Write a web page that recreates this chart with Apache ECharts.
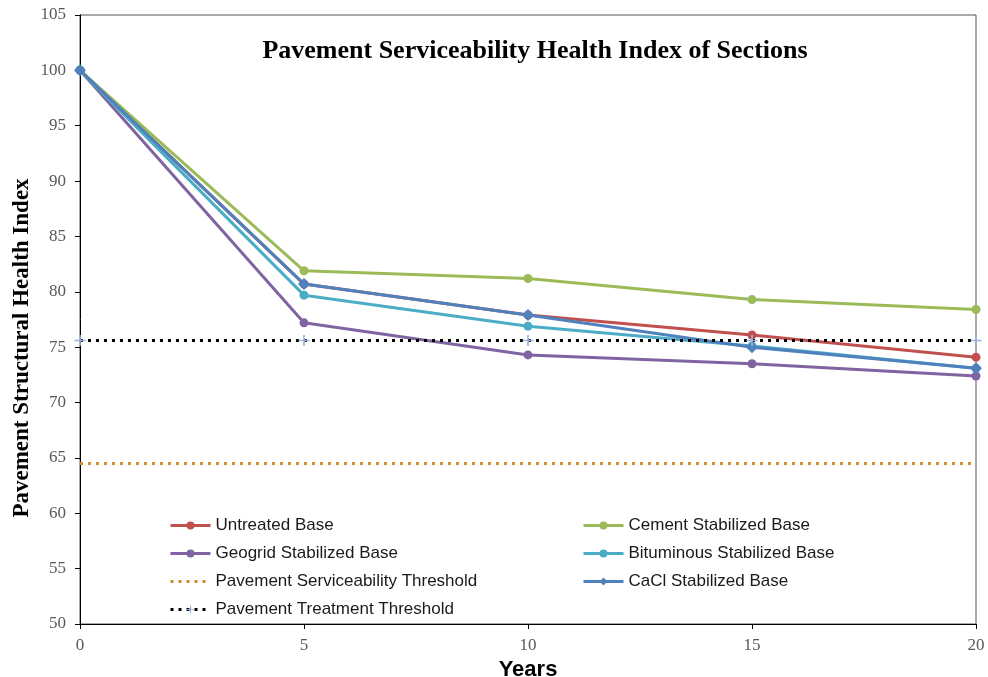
<!DOCTYPE html>
<html>
<head>
<meta charset="utf-8">
<script src="https://cdn.jsdelivr.net/npm/echarts@6/dist/echarts.min.js"></script>
<style>html,body{margin:0;padding:0;background:#fff}#c{width:988px;height:677px}</style>
</head>
<body>
<div id="c"></div>
<script>
const years = [0, 5, 10, 15, 20];
const untreated = [100, 80.7, 77.9, 76.1, 74.1];
const cement = [100, 81.9, 81.2, 79.3, 78.4];
const geogrid = [100, 77.2, 74.3, 73.5, 72.4];
const bituminous = [100, 79.7, 76.9, 75.1, 73.1];
const cacl = [100, 80.7, 77.9, 75.0, 73.1];
const serviceabilityThreshold = [64.5, 64.5, 64.5, 64.5, 64.5];
const treatmentThreshold = [75.6, 75.6, 75.6, 75.6, 75.6];
const yTicks = [50, 55, 60, 65, 70, 75, 80, 85, 90, 95, 100, 105];
const xTicks = [0, 5, 10, 15, 20];

const pts = arr => years.map((x, i) => [x, arr[i]]);
const plus = 'path://M4,0h1.4v4h4v1.4h-4v4h-1.4v-4h-4v-1.4h4z';

function lineSeries(name, data, color, symbol, size) {
  return {
    name, type: 'line', data: pts(data), symbol, symbolSize: size,
    lineStyle: {color, width: 3}, itemStyle: {color}, z: 3
  };
}

const legendText = {fontFamily: 'Liberation Sans', fontSize: 17, color: '#1a1a1a'};
const legendCommon = {orient: 'vertical', top: 512, itemGap: 11, itemWidth: 40, itemHeight: 10,
  textStyle: legendText, lineStyle: {width: 3}};

const chart = echarts.init(document.getElementById('c'), null, {renderer: 'canvas'});
chart.setOption({
  animation: false,
  backgroundColor: '#fff',
  title: {
    text: 'Pavement Serviceability Health Index of Sections',
    left: 530, top: 33, textAlign: 'center',
    textStyle: {fontFamily: 'Liberation Serif', fontWeight: 'bold', fontSize: 26, color: '#000'}
  },
  graphic: [{
    type: 'text', x: 22, y: 348, rotation: Math.PI / 2,
    style: {text: 'Pavement Structural Health Index', align: 'center', verticalAlign: 'middle',
      font: 'bold 23px "Liberation Serif"', fill: '#000'}
  }],
  grid: {left: 80, right: 12, top: 15, bottom: 53, show: true, borderColor: '#555', borderWidth: 1,
    containLabel: false, outerBoundsMode: 'none'},
  xAxis: {
    type: 'value', min: 0, max: 20, interval: 5,
    name: 'Years', nameLocation: 'middle', nameGap: 27,
    nameTextStyle: {fontFamily: 'Liberation Sans', fontWeight: 'bold', fontSize: 22, color: '#000'},
    axisLine: {lineStyle: {color: '#000', width: 1}},
    axisTick: {show: true, length: 5, inside: false, lineStyle: {color: '#000'}},
    axisLabel: {fontFamily: 'Liberation Serif', fontSize: 17, color: '#595959', margin: 13,
      formatter: v => xTicks.includes(v) ? String(v) : ''},
    splitLine: {show: false}
  },
  yAxis: {
    type: 'value', min: 50, max: 105, interval: 5,
    axisLine: {show: true, lineStyle: {color: '#000', width: 1}},
    axisTick: {show: true, length: 5, lineStyle: {color: '#000'}},
    axisLabel: {fontFamily: 'Liberation Serif', fontSize: 17, color: '#595959', margin: 14,
      formatter: v => yTicks.includes(v) ? String(v) : ''},
    splitLine: {show: false}
  },
  legend: [
    Object.assign({}, legendCommon, {
      left: 164,
      data: ['Untreated Base', 'Geogrid Stabilized Base',
        {name: 'Pavement Serviceability Threshold', itemStyle: {opacity: 0}},
        'Pavement Treatment Threshold']
    }),
    Object.assign({}, legendCommon, {
      left: 577,
      data: ['Cement Stabilized Base', 'Bituminous Stabilized Base', 'CaCl Stabilized Base']
    })
  ],
  series: [
    lineSeries('Untreated Base', untreated, '#C0504D', 'circle', 9),
    lineSeries('Cement Stabilized Base', cement, '#9BBB59', 'circle', 9),
    lineSeries('Geogrid Stabilized Base', geogrid, '#8064A2', 'circle', 9),
    lineSeries('Bituminous Stabilized Base', bituminous, '#4BACC6', 'circle', 9),
    {
      name: 'Pavement Serviceability Threshold', type: 'line', data: pts(serviceabilityThreshold),
      symbol: 'none', lineStyle: {color: '#D08A30', width: 3, type: [3, 5]}, itemStyle: {color: '#D08A30'}, z: 3
    },
    lineSeries('CaCl Stabilized Base', cacl, '#4F81BD', 'diamond', 12),
    {
      name: 'Pavement Treatment Threshold', type: 'line', data: pts(treatmentThreshold),
      symbol: plus, symbolSize: 11, lineStyle: {color: '#000', width: 3, type: [3, 5]},
      itemStyle: {color: '#9DB3DA'}, z: 4
    }
  ]
});
</script>
</body>
</html>
